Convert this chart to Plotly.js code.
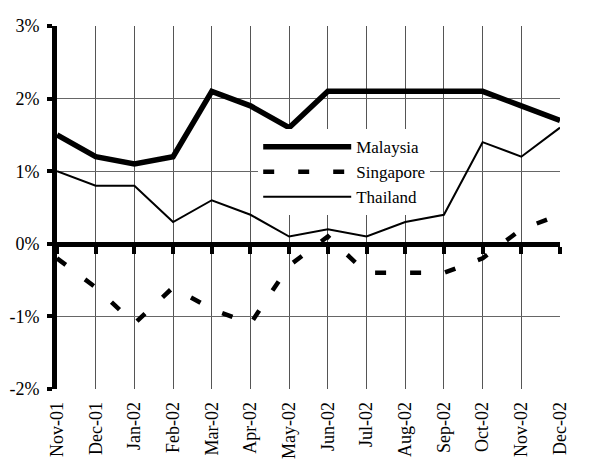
<!DOCTYPE html>
<html>
<head>
<meta charset="utf-8">
<script src="https://cdn.plot.ly/plotly-3.0.1.min.js"></script>
<style>
  html, body { margin: 0; padding: 0; background: #fff; }
  #chart { width: 613px; height: 461px; }
</style>
</head>
<body>
<div id="chart"></div>
<script>
// months shown on the x axis
const months = ['Nov-01', 'Dec-01', 'Jan-02', 'Feb-02', 'Mar-02', 'Apr-02', 'May-02',
                'Jun-02', 'Jul-02', 'Aug-02', 'Sep-02', 'Oct-02', 'Nov-02', 'Dec-02'];

// inflation, %
const malaysia  = [1.5, 1.2, 1.1, 1.2, 2.1, 1.9, 1.6, 2.1, 2.1, 2.1, 2.1, 2.1, 1.9, 1.7];
const singapore = [-0.2, -0.6, -1.1, -0.6, -0.9, -1.1, -0.3, 0.1, -0.4, -0.4, -0.4, -0.2, 0.2, 0.4];
const thailand  = [1.0, 0.8, 0.8, 0.3, 0.6, 0.4, 0.1, 0.2, 0.1, 0.3, 0.4, 1.4, 1.2, 1.6];

const yTicks = [-2, -1, 0, 1, 2, 3];
const yTickText = ['-2%', '-1%', '0%', '1%', '2%', '3%'];

const FONT = '"Liberation Serif", "Times New Roman", serif';

const traces = [
    { name: 'Malaysia', x: months, y: malaysia, type: 'scatter', mode: 'lines',
      line: { color: '#000', width: 5.5 } },
    { name: 'Singapore', x: months, y: singapore, type: 'scatter', mode: 'lines',
      line: { color: '#000', width: 4.5, dash: '11px,24px' } },
    { name: 'Thailand', x: months, y: thailand, type: 'scatter', mode: 'lines',
      line: { color: '#000', width: 2 } }
];

const layout = {
    width: 613,
    height: 461,
    margin: { l: 57, r: 53, t: 26, b: 72 },
    paper_bgcolor: '#fff',
    plot_bgcolor: '#fff',
    font: { family: FONT, size: 18, color: '#000' },
    showlegend: true,
    legend: {
        x: 0.40, y: 0.716, xanchor: 'left', yanchor: 'top',
        bgcolor: '#fff', borderwidth: 0,
        itemwidth: 88,
        tracegroupgap: 0,
        traceorder: 'normal',
        font: { family: FONT, size: 17, color: '#000' }
    },
    // the x axis line sits on 0% (thick line with tick dots),
    // its labels are pushed down to the bottom of the plot
    xaxis: {
        type: 'category',
        categoryorder: 'array',
        categoryarray: months,
        range: [0, 13],
        anchor: 'free',
        position: 0.4,
        showgrid: true, gridcolor: '#555', gridwidth: 1,
        showline: true, linecolor: '#000', linewidth: 5,
        zeroline: false,
        ticks: 'outside', ticklen: 7, tickwidth: 4, tickcolor: '#000',
        tickangle: -90,
        ticklabelstandoff: 141,
        tickfont: { family: FONT, size: 18 },
        automargin: false,
        fixedrange: true
    },
    yaxis: {
        range: [-2, 3],
        tickvals: yTicks,
        ticktext: yTickText,
        showgrid: true, gridcolor: '#666', gridwidth: 1,
        zeroline: false,
        showline: true, linecolor: '#000', linewidth: 5,
        ticks: 'outside', ticklen: 5, tickwidth: 4, tickcolor: '#000',
        ticklabelstandoff: 4,
        tickfont: { family: FONT, size: 18 },
        fixedrange: true
    }
};

Plotly.newPlot('chart', traces, layout, { displayModeBar: false, staticPlot: true });
</script>
</body>
</html>
